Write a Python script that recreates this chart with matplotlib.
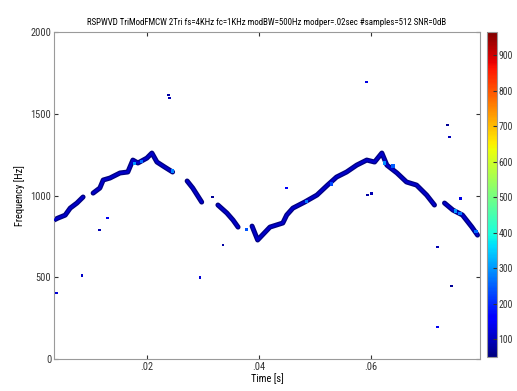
import numpy as np
import matplotlib
matplotlib.use("Agg")
import matplotlib.pyplot as plt
from matplotlib.ticker import FuncFormatter
from matplotlib import font_manager

names = set(f.name for f in font_manager.fontManager.ttflist)
fam = [n for n in ['Liberation Sans Narrow', 'DejaVu Sans Condensed', 'Roboto Condensed'] if n in names]
plt.rcParams['font.family'] = fam + ['DejaVu Sans']
plt.rcParams['font.stretch'] = 'condensed'

# ridge segments (time [s], frequency [Hz])
seg1_t = [0.0034, 0.0041, 0.0054, 0.0063, 0.0075, 0.0086]
seg1_f = [850, 862, 880, 923, 954, 991]
seg2_t = [0.0104, 0.0116, 0.0122, 0.0134, 0.0152, 0.0166, 0.0175, 0.0184, 0.0200, 0.0209, 0.0218, 0.0232, 0.0246]
seg2_f = [1015, 1046, 1095, 1107, 1138, 1144, 1217, 1199, 1229, 1260, 1205, 1174, 1144]
seg3_t = [0.0272, 0.0282, 0.0298]
seg3_f = [1089, 1046, 960]
seg4_t = [0.0327, 0.0343, 0.0354, 0.0363]
seg4_f = [942, 893, 850, 807]
seg5_t = [0.0388, 0.0398, 0.0420, 0.0443, 0.0450, 0.0461, 0.0482, 0.0504, 0.0523, 0.0539, 0.0557,
          0.0575, 0.0593, 0.0607, 0.0620, 0.0629, 0.0647, 0.0664, 0.0682, 0.0700, 0.0714]
seg5_f = [813, 728, 807, 832, 881, 923, 960, 1003, 1064, 1113, 1144,
          1186, 1217, 1205, 1260, 1186, 1138, 1083, 1064, 1003, 942]
seg6_t = [0.0732, 0.0747, 0.0764, 0.0781, 0.0791]
seg6_f = [954, 911, 881, 807, 758]
segments = [(seg1_t, seg1_f), (seg2_t, seg2_f), (seg3_t, seg3_f),
            (seg4_t, seg4_f), (seg5_t, seg5_f), (seg6_t, seg6_f)]

# brighter patches on the ridge
hi_t = [0.0178, 0.0190, 0.0246, 0.0378, 0.0485, 0.0530, 0.0625, 0.0640, 0.0752, 0.0760, 0.0788]
hi_f = [1195, 1210, 1150, 792, 962, 1070, 1200, 1180, 905, 890, 780]
hi_v = [300, 260, 280, 240, 270, 230, 290, 250, 300, 270, 260]

# isolated spots
dot_t = [0.0039, 0.0084, 0.0116, 0.0130, 0.0238, 0.0241, 0.0295, 0.0318, 0.0336, 0.0450,
         0.0593, 0.0595, 0.0602, 0.0720, 0.0720, 0.0738, 0.0741, 0.0745, 0.0760]
dot_f = [404, 513, 789, 862, 1615, 1596, 501, 991, 697, 1046,
         1694, 1003, 1012, 685, 196, 1431, 1358, 447, 980]
dot_v = [120, 110, 90, 140, 80, 90, 120, 70, 80, 150,
         130, 80, 90, 90, 140, 70, 100, 70, 130]

vmin, vmax = 50, 965
cmap = plt.get_cmap('jet')
norm = plt.Normalize(vmin, vmax)

fig = plt.figure(figsize=(5.17, 3.91), dpi=100)
ax = fig.add_axes([0.1044, 0.0818, 0.8236, 0.8362])
cax = fig.add_axes([0.942, 0.087, 0.0193, 0.831])

for t, f in segments:
    ax.plot(t, f, color=cmap(norm(30)), lw=3.6, solid_capstyle='round', zorder=2)
    ax.plot(t, f, color=cmap(norm(110)), lw=1.8, solid_capstyle='round', zorder=3)

ax.scatter(hi_t, hi_f, c=hi_v, cmap=cmap, norm=norm, s=6, marker='s', lw=0, zorder=4)
sc = ax.scatter(dot_t, dot_f, c=dot_v, cmap=cmap, norm=norm, s=4, marker='s', lw=0, zorder=4)

ax.set_xlim(0.0034, 0.0795)
ax.set_ylim(0, 2000)
ax.set_xticks([0.02, 0.04, 0.06])
ax.set_yticks([0, 500, 1000, 1500, 2000])
ax.xaxis.set_major_formatter(FuncFormatter(lambda v, p: ('%.2f' % v).lstrip('0')))
ax.tick_params(direction='in', top=True, right=True, length=3, labelsize=7.5, colors='#333333', pad=2)
for sp in ax.spines.values():
    sp.set_color('#9a9a9a')
ax.set_xlabel('Time [s]', fontsize=7.5, labelpad=1)
ax.set_ylabel('Frequency [Hz]', fontsize=7.5, labelpad=4)
ax.set_title('RSPWVD TriModFMCW 2Tri fs=4KHz fc=1KHz modBW=500Hz modper=.02sec #samples=512 SNR=0dB',
             fontsize=6.4, pad=5)

cb = fig.colorbar(sc, cax=cax)
cb.set_ticks([100, 200, 300, 400, 500, 600, 700, 800, 900])
cb.ax.tick_params(labelsize=7, direction='in', length=3, colors='#333333', pad=1)
cb.outline.set_edgecolor('#9a9a9a')

fig.savefig('out.png', dpi=100)
